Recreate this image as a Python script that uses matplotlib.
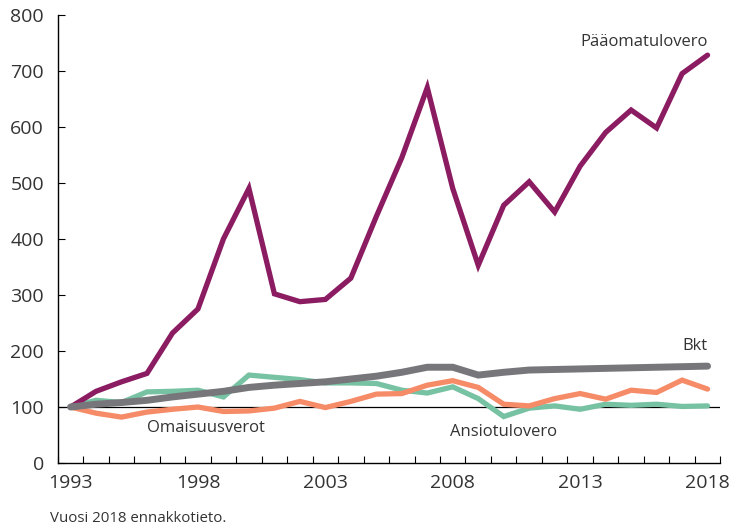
import matplotlib
matplotlib.use("Agg")
import matplotlib.pyplot as plt
import numpy as np

years = list(range(1993, 2019))
paaomatulovero = [100, 128, 145, 160, 232, 275, 400, 490, 302, 288, 292, 330, 440, 545, 670, 490,
                  353, 460, 502, 448, 530, 590, 630, 598, 695, 728]
bkt = [100, 105, 108, 112, 118, 123, 128, 135, 139, 142, 145, 150, 155, 162, 171, 171,
       157, 162, 166, 167, 168, 169, 170, 171, 172, 173]
ansiotulovero = [100, 112, 108, 127, 128, 130, 118, 157, 153, 149, 143, 143, 142, 130, 125, 136,
                 115, 83, 98, 102, 96, 105, 103, 105, 101, 102]
omaisuusverot = [100, 89, 82, 91, 96, 100, 92, 93, 98, 110, 99, 110, 123, 124, 139, 147,
                 135, 105, 102, 115, 124, 114, 130, 126, 148, 132]
tick_years = [1993, 1998, 2003, 2008, 2013, 2018]
yticks = [0, 100, 200, 300, 400, 500, 600, 700, 800]

plt.rcParams['font.family'] = ['Open Sans', 'DejaVu Sans']
txt = '#333333'

fig = plt.figure(figsize=(7.32, 5.28), dpi=100)
ax = fig.add_axes([0.079, 0.123, 0.905, 0.849])

ax.axhline(100, color='black', lw=0.9, zorder=1)
ax.plot(years, ansiotulovero, color='#78C2A4', lw=3.8, solid_capstyle='round', solid_joinstyle='miter', zorder=2)
ax.plot(years, omaisuusverot, color='#F68B68', lw=3.8, solid_capstyle='round', solid_joinstyle='miter', zorder=3)
ax.plot(years, paaomatulovero, color='#8B1C62', lw=3.8, solid_capstyle='round', solid_joinstyle='miter', zorder=4)
ax.plot(years, bkt, color='#77777B', lw=5.0, solid_capstyle='round', solid_joinstyle='miter', zorder=5)

ax.set_xlim(1992.5, 2018.5)
ax.set_ylim(0, 800)
ax.set_yticks(yticks)
ax.set_yticklabels([str(v) for v in yticks], fontsize=14, color=txt)
ax.set_xticks(np.arange(1992.5, 2019, 1.0))
ax.set_xticklabels([])
ax.set_xticks(tick_years, minor=True)
ax.set_xticklabels([str(y) for y in tick_years], minor=True, fontsize=14, color=txt)
ax.tick_params(axis='x', which='major', direction='in', length=5, width=0.8)
ax.tick_params(axis='x', which='minor', length=0, pad=8)
ax.tick_params(axis='y', direction='in', length=5, width=0.8, pad=10)
for s in ['top', 'right']:
    ax.spines[s].set_visible(False)
for s in ['left', 'bottom']:
    ax.spines[s].set_linewidth(1.0)

ax.text(2018.0, 752, 'Pääomatulovero', fontsize=12, color=txt, ha='right', va='center')
ax.text(2018.0, 209, 'Bkt', fontsize=12, color=txt, ha='right', va='center')
ax.text(1998.3, 62, 'Omaisuusverot', fontsize=12, color=txt, ha='center', va='center')
ax.text(2010.0, 55, 'Ansiotulovero', fontsize=12, color=txt, ha='center', va='center')

fig.text(0.068, 0.018, 'Vuosi 2018 ennakkotieto.', fontsize=10.8, color=txt, ha='left', va='center')

fig.savefig('out.png', dpi=100)
